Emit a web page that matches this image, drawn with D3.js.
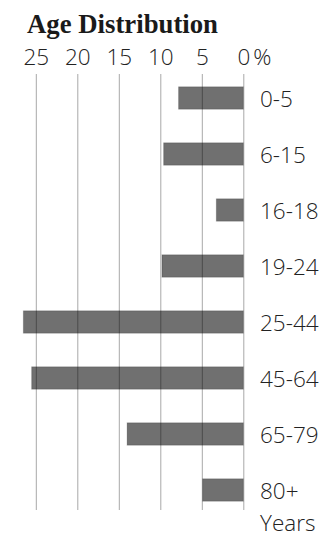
<!DOCTYPE html>
<html>
<head>
<meta charset="utf-8">
<script src="https://cdn.jsdelivr.net/npm/d3@7"></script>
<style>
  html, body { margin: 0; padding: 0; background: #fff; }
  svg { display: block; }
  .tick text, .cat, .unit { font-family: "Open Sans", "Liberation Sans", sans-serif; font-weight: 300; font-size: 22.5px; fill: #222; }
  .title { font-family: "Liberation Serif", "DejaVu Serif", serif; font-weight: 700; font-size: 27px; fill: #1a1a1a; }
</style>
</head>
<body>
<script>
// Age distribution, share of population in %
const ageGroups = ["0-5", "6-15", "16-18", "19-24", "25-44", "45-64", "65-79", "80+"];
const shares = [7.8, 9.6, 3.25, 9.8, 26.5, 25.5, 14.0, 4.9];
const tickValues = [25, 20, 15, 10, 5, 0];

const W = 322, H = 539;
const svg = d3.select("body").append("svg").attr("width", W).attr("height", H);

// x runs right-to-left: zero at the right, bars grow leftwards
const x = d3.scaleLinear().domain([0, 25]).range([243.3, 35.8]);
const y = d3.scaleBand().domain(ageGroups).range([70, 518])
  .paddingInner(0.6).paddingOuter(0.3);

const GRID_TOP = 74, GRID_BOT = 510;

svg.append("text").attr("class", "title")
  .attr("x", 27).attr("y", 33)
  .attr("textLength", 191).attr("lengthAdjust", "spacingAndGlyphs")
  .text("Age Distribution");

// axis labels on top, tick lines extended down as the grid
const axis = svg.append("g")
  .attr("transform", `translate(0,${GRID_TOP})`)
  .call(d3.axisTop(x).tickValues(tickValues).tickFormat(d3.format("d"))
    .tickSizeInner(-(GRID_BOT - GRID_TOP)).tickSizeOuter(0).tickPadding(9));
axis.select(".domain").remove();
axis.selectAll(".tick line").attr("stroke", "#a8a8a8").attr("stroke-width", 1);
axis.selectAll(".tick text").attr("dy", 0);
axis.attr("font-family", null).attr("font-size", null);

svg.append("text").attr("class", "unit")
  .attr("x", x(0) + 10).attr("y", GRID_TOP - 9)
  .text("%");

// bars (semi-transparent so the grid shows through)
svg.append("g").selectAll("rect")
  .data(ageGroups)
  .join("rect")
  .attr("x", (d, i) => x(shares[i]))
  .attr("y", d => y(d))
  .attr("width", (d, i) => x(0) - x(shares[i]))
  .attr("height", y.bandwidth())
  .attr("fill", "rgba(0,0,0,0.56)")
  .attr("stroke", "rgba(0,0,0,0.18)")
  .attr("stroke-width", 1);

svg.append("g").selectAll("text")
  .data(ageGroups)
  .join("text")
  .attr("class", "cat")
  .attr("x", 260)
  .attr("y", d => y(d) + y.bandwidth() / 2 + 9)
  .text(d => d);

svg.append("text").attr("class", "cat")
  .attr("x", 260).attr("y", 531)
  .text("Years");
</script>
</body>
</html>
